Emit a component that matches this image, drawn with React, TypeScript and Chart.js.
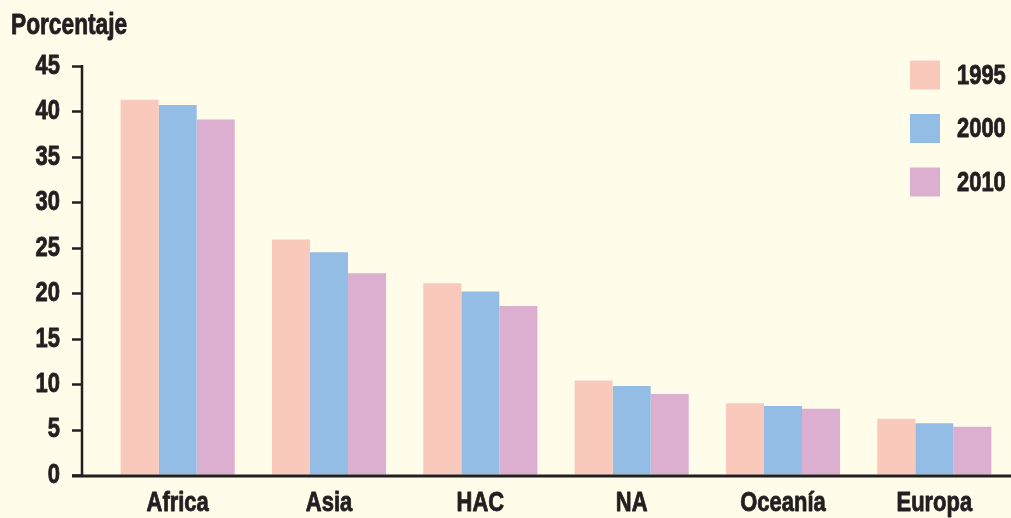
import React, { useEffect, useRef } from 'react';
import { Chart, registerables } from 'chart.js';

Chart.register(...registerables);

const categories = ['Africa', 'Asia', 'HAC', 'NA', 'Oceanía', 'Europa'];
const seriesLabels = ['1995', '2000', '2010'];
const values1995 = [41.3, 25.9, 21.1, 10.4, 7.9, 6.2];
const values2000 = [40.7, 24.5, 20.2, 9.8, 7.6, 5.7];
const values2010 = [39.1, 22.2, 18.6, 8.9, 7.3, 5.3];
const seriesColors = ['#F9C9BC', '#94BDE5', '#DCAFD1'];
const yTitle = 'Porcentaje';
const yMin = 0;
const yMax = 45;
const yStep = 5;

const INK = '#231F20';
const BG = '#FFFCEA';
const FONT_FAMILY = "'Liberation Sans', Arial, sans-serif";
const FONT_SIZE = 28.5;
const TEXT_SCALE_X = 0.77; // condensed look of the original typeface
const TEXT_EMBOLDEN = 0.9;

// Draws all text horizontally condensed and slightly heavier (the original uses a heavy condensed face)
const condensePlugin = {
  id: 'condenseText',
  beforeDraw(chart: any) {
    const ctx = chart.ctx as any;
    if (ctx.__origFillText) return;
    const orig = ctx.fillText;
    ctx.__origFillText = orig;
    ctx.fillText = function (text: string, x: number, y: number, maxWidth?: number) {
      this.save();
      this.translate(x, y);
      this.scale(TEXT_SCALE_X, 1);
      if (maxWidth !== undefined) orig.call(this, text, 0, 0, maxWidth / TEXT_SCALE_X);
      else orig.call(this, text, 0, 0);
      this.strokeStyle = this.fillStyle;
      this.lineWidth = TEXT_EMBOLDEN;
      this.lineJoin = 'round';
      this.strokeText(text, 0, 0);
      this.restore();
    };
  },
  afterDraw(chart: any) {
    const ctx = chart.ctx as any;
    if (ctx.__origFillText) {
      ctx.fillText = ctx.__origFillText;
      delete ctx.__origFillText;
    }
  },
};

const customPlugin = {
  id: 'customAxesLegend',
  afterDatasetsDraw(chart: any) {
    const { ctx, chartArea, scales } = chart;
    const y = scales.y;
    const axisX = chartArea.left - 20;
    const tickLen = 10;
    ctx.save();
    ctx.strokeStyle = INK;
    ctx.lineCap = 'butt';
    ctx.lineWidth = 2.5;
    ctx.beginPath();
    ctx.moveTo(axisX, y.getPixelForValue(yMax) - 1);
    ctx.lineTo(axisX, chartArea.bottom);
    ctx.stroke();
    ctx.beginPath();
    y.ticks.forEach((t: any) => {
      const py = Math.round(y.getPixelForValue(t.value)) + 0.5;
      ctx.moveTo(axisX - tickLen, py);
      ctx.lineTo(axisX, py);
    });
    ctx.stroke();
    ctx.lineWidth = 3;
    ctx.beginPath();
    ctx.moveTo(axisX - tickLen, chartArea.bottom + 1);
    ctx.lineTo(chart.width, chartArea.bottom + 1);
    ctx.stroke();
    ctx.fillStyle = INK;
    ctx.font = `bold 29.5px ${FONT_FAMILY}`;
    ctx.textAlign = 'left';
    ctx.textBaseline = 'middle';
    ctx.fillText(yTitle, 11, 26);
    ctx.font = `bold ${FONT_SIZE}px ${FONT_FAMILY}`;
    chart.data.datasets.forEach((ds: any, i: number) => {
      const cy = 75 + i * 53.5;
      ctx.fillStyle = ds.backgroundColor;
      ctx.fillRect(910, cy - 14.5, 30, 29);
      ctx.fillStyle = INK;
      ctx.fillText(ds.label, 957, cy + 1);
    });
    ctx.restore();
  },
};

export default function App() {
  const canvasRef = useRef<HTMLCanvasElement | null>(null);

  useEffect(() => {
    document.body.style.margin = '0';
    document.body.style.background = BG;
    const canvas = canvasRef.current;
    if (!canvas) return;
    const font = { family: FONT_FAMILY, size: FONT_SIZE, weight: 'bold' as const };
    const chart = new Chart(canvas, {
      type: 'bar',
      data: {
        labels: categories,
        datasets: [values1995, values2000, values2010].map((vals, i) => ({
          label: seriesLabels[i],
          data: vals,
          backgroundColor: seriesColors[i],
          borderWidth: 0,
          categoryPercentage: 0.754,
          barPercentage: 1,
        })),
      },
      options: {
        animation: false,
        responsive: false,
        maintainAspectRatio: false,
        layout: { padding: { left: 0, right: 1, top: 66, bottom: 0 } },
        plugins: {
          legend: { display: false },
          tooltip: { enabled: false },
          title: { display: false },
        },
        scales: {
          x: {
            grid: { display: false, drawTicks: false },
            border: { display: false },
            ticks: { color: INK, font, padding: 11, maxRotation: 0, autoSkip: false },
            afterFit(scale: any) {
              scale.height = 43;
            },
          },
          y: {
            min: yMin,
            max: yMax,
            grid: {
              display: true,
              drawOnChartArea: false,
              drawTicks: true,
              tickLength: 42,
              color: 'rgba(0,0,0,0)',
            },
            border: { display: false },
            ticks: { stepSize: yStep, color: INK, font, padding: 0 },
            afterFit(scale: any) {
              scale.width = 102;
            },
          },
        },
      },
      plugins: [condensePlugin, customPlugin],
    });
    return () => chart.destroy();
  }, []);

  return (
    <div style={{ position: 'absolute', left: 0, top: 0, width: 1011, height: 518, background: BG }}>
      <canvas ref={canvasRef} width={1011} height={518} style={{ display: 'block' }} />
    </div>
  );
}
